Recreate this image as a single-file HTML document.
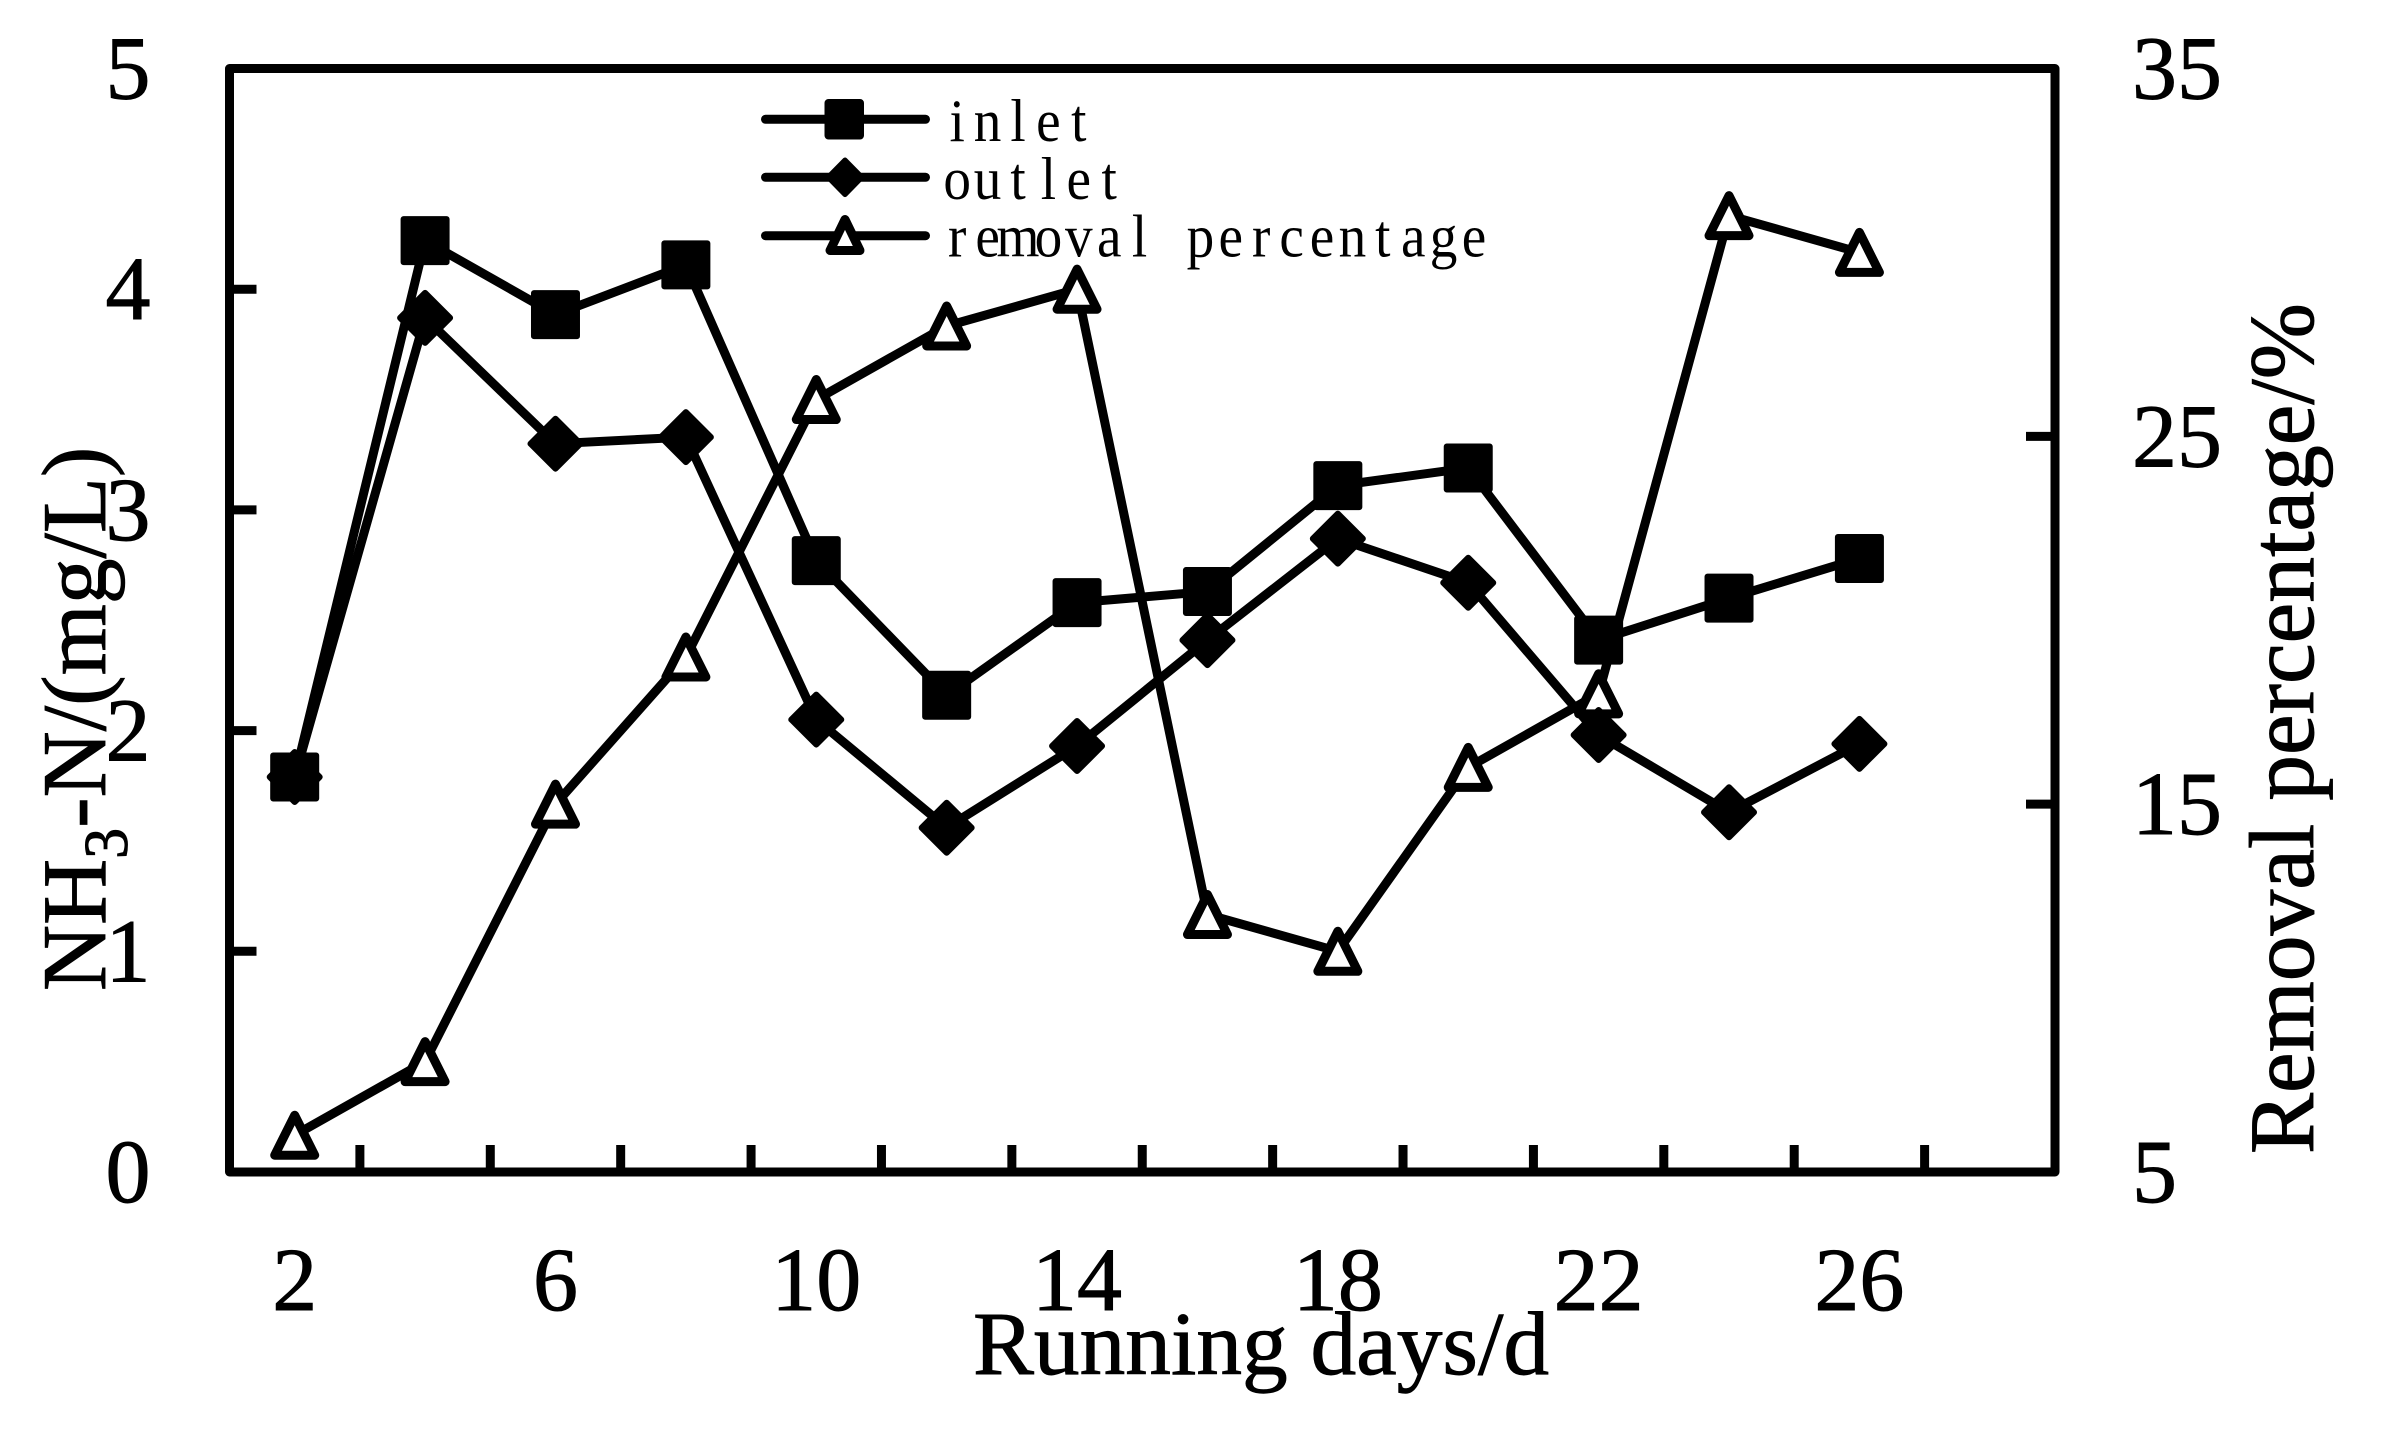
<!DOCTYPE html>
<html lang="en">
<head>
<meta charset="utf-8">
<title>NH3-N inlet, outlet and removal percentage</title>
<style>
html,body{margin:0;padding:0;background:#fff;}
svg{display:block;}
text{font-family:"Liberation Serif",serif;fill:#000;}
.heavy{stroke:#000;stroke-width:0.9px;}
.legend-text{font-size:60px;text-anchor:middle;}
</style>
</head>
<body>
<svg id="chart" xmlns="http://www.w3.org/2000/svg" width="2390" height="1433" viewBox="0 0 2390 1433">
  <rect x="0" y="0" width="2390" height="1433" fill="#fff"/>
  <rect x="229.5" y="68.5" width="1825.5" height="1103.5" fill="none" stroke="#000" stroke-width="9" stroke-linejoin="round"/>
  <g id="ticks"></g>
  <g id="tick-labels"></g>
  <text class="heavy" x="973" y="1374" font-size="90" textLength="576" lengthAdjust="spacingAndGlyphs">Running days/d</text>
  <text class="heavy" transform="translate(105,991) rotate(-90)" font-size="91.5">NH<tspan font-size="62" dy="22">3</tspan><tspan dy="-22">-N/(mg/L)</tspan></text>
  <text class="heavy" transform="translate(2313,1154) rotate(-90)" font-size="92" textLength="851" lengthAdjust="spacingAndGlyphs">Removal percentage/%</text>
  <g id="series"></g>
  <g>
    <g>
      <line x1="765.5" y1="119.3" x2="925.5" y2="119.3" stroke="#000" stroke-width="9" stroke-linecap="round"/>
      <rect x="827.5" y="102" width="33.5" height="34.5" rx="1" fill="#000" stroke="#000" stroke-width="6" stroke-linejoin="round"/>
      <text class="legend-text" transform="translate(942,141) scale(0.92,1)">inlet</text>
    </g>
    <g>
      <line x1="765.5" y1="177.3" x2="925.5" y2="177.3" stroke="#000" stroke-width="9" stroke-linecap="round"/>
      <polygon points="845,160 862,177.3 845,194.6 828,177.3" fill="#000" stroke="#000" stroke-width="5" stroke-linejoin="round"/>
      <text class="legend-text" transform="translate(942,199) scale(0.92,1)">outlet</text>
    </g>
    <g>
      <line x1="765.5" y1="235.7" x2="925.5" y2="235.7" stroke="#000" stroke-width="9" stroke-linecap="round"/>
      <polygon points="845,219.5 860,250.5 830,250.5" fill="#fff" stroke="#000" stroke-width="9" stroke-linejoin="round"/>
      <text class="legend-text" transform="translate(942,256.7) scale(0.92,1)">removal percentage</text>
    </g>
  </g>
</svg>
<script>
const days = [2, 4, 6, 8, 10, 12, 14, 16, 18, 20, 22, 24, 26];
const inletValues = [1.79, 4.22, 3.885, 4.11, 2.77, 2.16, 2.58, 2.63, 3.11, 3.19, 2.41, 2.60, 2.78];
const outletValues = [1.79, 3.87, 3.30, 3.33, 2.05, 1.56, 1.93, 2.41, 2.87, 2.67, 1.98, 1.63, 1.94];
const removalValues = [6, 8, 15, 19, 26, 28, 29, 12, 11, 16, 18, 31, 30];
const xTickValues = [3, 5, 7, 9, 11, 13, 15, 17, 19, 21, 23, 25, 27];
const xLabelValues = [2, 6, 10, 14, 18, 22, 26];
const leftTickValues = [1, 2, 3, 4];
const leftLabelValues = [0, 1, 2, 3, 4, 5];
const rightTickValues = [15, 25];
const rightLabelValues = [5, 15, 25, 35];

const SVG_NS = 'http://www.w3.org/2000/svg';
const plot = { left: 229.5, right: 2055, top: 68.5, bottom: 1172 };
const xDomain = { min: 1, max: 29 };
const leftDomain = { min: 0, max: 5 };
const rightDomain = { min: 5, max: 35 };

function xScale(v) {
  return plot.left + (v - xDomain.min) / (xDomain.max - xDomain.min) * (plot.right - plot.left);
}
function leftScale(v) {
  return plot.bottom - (v - leftDomain.min) / (leftDomain.max - leftDomain.min) * (plot.bottom - plot.top);
}
function rightScale(v) {
  return plot.bottom - (v - rightDomain.min) / (rightDomain.max - rightDomain.min) * (plot.bottom - plot.top);
}
function make(tag, attrs, parent) {
  const el = document.createElementNS(SVG_NS, tag);
  Object.keys(attrs).forEach(function (k) { el.setAttribute(k, attrs[k]); });
  parent.appendChild(el);
  return el;
}

const ticksLayer = document.getElementById('ticks');
const labelsLayer = document.getElementById('tick-labels');
const seriesLayer = document.getElementById('series');
const TICK_LEN = 27;
const TICK_W = 9;
const LABEL_SIZE = 90;

xTickValues.forEach(function (v) {
  const el = make('line', { x1: xScale(v), x2: xScale(v), y1: plot.bottom, y2: plot.bottom - TICK_LEN, stroke: '#000', 'stroke-width': TICK_W }, ticksLayer);
  
  
});
leftTickValues.forEach(function (v) {
  const el = make('line', { x1: plot.left, x2: plot.left + TICK_LEN, y1: leftScale(v), y2: leftScale(v), stroke: '#000', 'stroke-width': TICK_W }, ticksLayer);
  
  
});
rightTickValues.forEach(function (v) {
  const el = make('line', { x1: plot.right, x2: plot.right - TICK_LEN - 2, y1: rightScale(v), y2: rightScale(v), stroke: '#000', 'stroke-width': TICK_W }, ticksLayer);
  
  
});

xLabelValues.forEach(function (v) {
  const el = make('text', { class: 'heavy', x: xScale(v), y: 1310, 'text-anchor': 'middle', 'font-size': LABEL_SIZE }, labelsLayer);
  el.textContent = String(v);
  
  
});
leftLabelValues.forEach(function (v) {
  const el = make('text', { class: 'heavy', x: 128, y: leftScale(v) + 30, 'text-anchor': 'middle', 'font-size': LABEL_SIZE }, labelsLayer);
  el.textContent = String(v);
  
  
});
rightLabelValues.forEach(function (v) {
  const el = make('text', { class: 'heavy', x: 2132, y: rightScale(v) + 30, 'text-anchor': 'start', 'font-size': LABEL_SIZE }, labelsLayer);
  el.textContent = String(v);
  
  
});

function linePoints(values, yScale) {
  return values.map(function (v, i) { return xScale(days[i]) + ',' + yScale(v); }).join(' ');
}
function drawLine(values, yScale, name) {
  const el = make('polyline', { points: linePoints(values, yScale), fill: 'none', stroke: '#000', 'stroke-width': 9, 'stroke-linejoin': 'round' }, seriesLayer);
  
  
}
function drawSquares(values, yScale) {
  const size = 43;
  values.forEach(function (v, i) {
    const el = make('rect', { x: xScale(days[i]) - size / 2, y: yScale(v) - size / 2, width: size, height: size, fill: '#000', stroke: '#000', 'stroke-width': 6, 'stroke-linejoin': 'round' }, seriesLayer);
    
    
  });
}
function drawDiamonds(values, yScale) {
  const half = 25;
  values.forEach(function (v, i) {
    const cx = xScale(days[i]);
    const cy = yScale(v);
    const pts = [cx + ',' + (cy - half), (cx + half) + ',' + cy, cx + ',' + (cy + half), (cx - half) + ',' + cy].join(' ');
    const el = make('polygon', { points: pts, fill: '#000', stroke: '#000', 'stroke-width': 6, 'stroke-linejoin': 'round' }, seriesLayer);
    
    
  });
}
function drawTriangles(values, yScale) {
  const halfW = 20;
  const rise = 20;
  values.forEach(function (v, i) {
    const cx = xScale(days[i]);
    const cy = yScale(v);
    const pts = [cx + ',' + (cy - rise), (cx + halfW) + ',' + (cy + rise), (cx - halfW) + ',' + (cy + rise)].join(' ');
    const el = make('polygon', { points: pts, fill: '#fff', stroke: '#000', 'stroke-width': 9, 'stroke-linejoin': 'round' }, seriesLayer);
    
    
  });
}

drawLine(removalValues, rightScale, 'removal-percentage-line');
drawTriangles(removalValues, rightScale);
drawLine(inletValues, leftScale, 'inlet-line');
drawSquares(inletValues, leftScale);
drawLine(outletValues, leftScale, 'outlet-line');
drawDiamonds(outletValues, leftScale);

/* The reference legend uses half-width cells: centre each glyph in its own 30.4px cell. */
document.querySelectorAll('.legend-text').forEach(function (t) {
  const cell = 30.4 / 0.92;
  const n = t.textContent.length;
  const xs = [];
  for (let i = 0; i < n; i++) { xs.push((cell * (i + 0.5)).toFixed(2)); }
  t.setAttribute('x', xs.join(' '));
});
</script>
</body>
</html>
